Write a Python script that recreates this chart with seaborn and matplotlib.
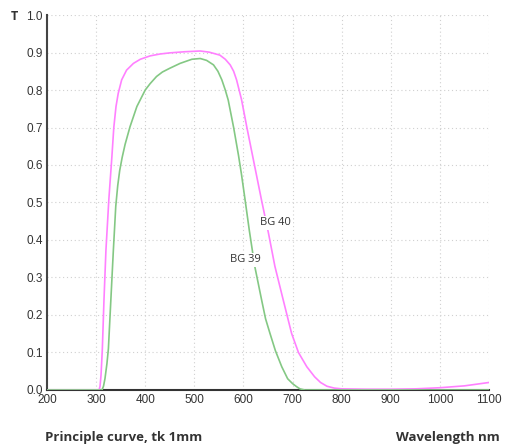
import pandas as pd
import seaborn as sns
import matplotlib.pyplot as plt

# BG 40 transmission (pink)
bg40_wl = [200, 300, 306, 308, 310, 312.6, 316, 320, 326, 332, 336, 340.5, 345, 352,
           362, 376, 390, 410, 430, 450, 480, 512, 530, 552, 563, 573, 580, 586,
           596, 607, 617, 627, 637, 651, 664, 681, 698, 712, 729, 745, 757, 770,
           785, 800, 850, 900, 950, 1000, 1050, 1100]
bg40_t = [0, 0, 0, 0.01, 0.04, 0.107, 0.24, 0.373, 0.51, 0.62, 0.70, 0.756, 0.791, 0.827,
          0.853, 0.871, 0.882, 0.891, 0.896, 0.899, 0.902, 0.904, 0.901, 0.893, 0.882, 0.867, 0.85, 0.827,
          0.775, 0.70, 0.635, 0.57, 0.505, 0.418, 0.33, 0.24, 0.151, 0.10, 0.062, 0.035, 0.02, 0.01,
          0.005, 0.003, 0.002, 0.002, 0.003, 0.006, 0.011, 0.02]

# BG 39 transmission (green)
bg39_wl = [200, 312, 315, 318, 322, 325, 330, 335, 340, 344, 348, 353, 359, 369, 383,
           400, 410, 423, 435, 450, 471, 495, 512, 525, 539, 548, 556, 563, 569, 580, 590,
           596, 603, 612, 623, 637, 645, 654, 665, 678, 690, 700, 708, 715, 725, 1100]
bg39_t = [0, 0, 0.01, 0.03, 0.07, 0.11, 0.24, 0.37, 0.49, 0.545, 0.585, 0.62, 0.655, 0.702, 0.756,
          0.80, 0.817, 0.836, 0.848, 0.858, 0.871, 0.882, 0.884, 0.879, 0.867, 0.85, 0.827, 0.80, 0.773, 0.70, 0.625,
          0.575, 0.51, 0.425, 0.33, 0.24, 0.19, 0.151, 0.105, 0.062, 0.03, 0.017, 0.009, 0.003, 0, 0]

df = pd.concat([
    pd.DataFrame({"wl": bg40_wl, "T": bg40_t, "glass": "BG 40"}),
    pd.DataFrame({"wl": bg39_wl, "T": bg39_t, "glass": "BG 39"}),
])

sns.set_style("white")
plt.rcParams["font.family"] = ["Liberation Sans", "DejaVu Sans"]

fig = plt.figure(figsize=(5.27, 4.48), dpi=100)
ax = fig.add_axes([0.0892, 0.1295, 0.8387, 0.837])

sns.lineplot(data=df, x="wl", y="T", hue="glass",
             palette={"BG 40": "#ff80ff", "BG 39": "#84c884"},
             linewidth=1.2, legend=False, ax=ax, zorder=3, sort=False)

ax.set_xlim(200, 1100)
ax.set_ylim(0, 1.0)
ax.set_xticks(range(200, 1101, 100))
ax.set_yticks([i / 10 for i in range(11)])
ax.set_yticklabels([f"{i / 10:.1f}" for i in range(11)])
ax.grid(True, linestyle=(0, (1, 2.5)), color="#d0d0d0", linewidth=0.8)
ax.tick_params(axis="both", length=0, labelsize=8.5, colors="#333333", pad=3)
ax.set_xlabel("")
ax.set_ylabel("")

for s in ["top", "right"]:
    ax.spines[s].set_visible(False)
ax.spines["left"].set_color("#444444")
ax.spines["left"].set_linewidth(1.5)
ax.spines["bottom"].set_color("#333333")
ax.spines["bottom"].set_linewidth(1.5)

box = dict(facecolor="white", edgecolor="none", pad=1)
ax.text(666, 0.446, "BG 40", ha="center", va="center", fontsize=8,
        color="#333333", family=["Open Sans", "DejaVu Sans"], bbox=box, zorder=5)
ax.text(603, 0.347, "BG 39", ha="center", va="center", fontsize=8,
        color="#333333", family=["Open Sans", "DejaVu Sans"], bbox=box, zorder=5)

fig.text(0.02, 0.963, "T", fontsize=9, fontweight="bold", color="#333333",
         va="center", family=["Open Sans", "DejaVu Sans"])
fig.text(0.085, 0.015, "Principle curve, tk 1mm", fontsize=9.5, fontweight="bold",
         color="#333333", family=["Open Sans", "DejaVu Sans"])
fig.text(0.948, 0.015, "Wavelength nm", fontsize=9.5, fontweight="bold", ha="right",
         color="#333333", family=["Open Sans", "DejaVu Sans"])

fig.savefig("out.png", dpi=100)
